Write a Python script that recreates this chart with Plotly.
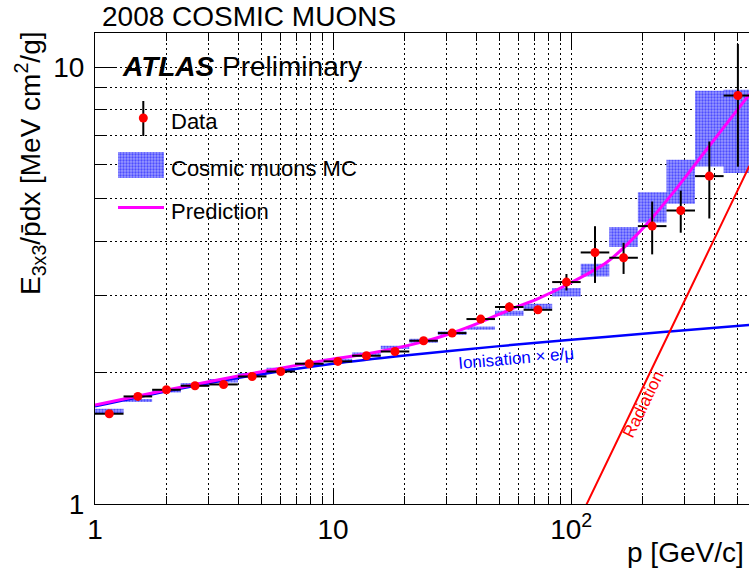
import numpy as np
import plotly.graph_objects as go

# ---------------------------------------------------------------------------
# Values
# ---------------------------------------------------------------------------
# Momentum bin edges [GeV/c] (equal width in log10 p)
bin_edges = [1.000, 1.318, 1.738, 2.291, 3.020, 3.981, 5.248, 6.918, 9.120,
             12.02, 15.85, 20.89, 27.54, 36.31, 47.86, 63.10, 83.18, 109.6,
             144.5, 190.5, 251.2, 331.1, 436.5, 575.4]

# Measured E_3x3 / (rho dx) per bin [MeV cm^2/g]
data_val = [1.610, 1.764, 1.827, 1.866, 1.879, 1.960, 2.012, 2.096, 2.122,
            2.186, 2.236, 2.366, 2.464, 2.653, 2.827, 2.786, 3.225, 3.770,
            3.666, 4.332, 4.704, 5.640, 8.627]
data_err = [0.020, 0.015, 0.015, 0.015, 0.015, 0.015, 0.015, 0.020, 0.020,
            0.020, 0.020, 0.030, 0.030, 0.050, 0.070, 0.050, 0.140, 0.560,
            0.300, 0.600, 0.520, 1.130, 2.700]

# Cosmic muon MC band (lower / upper edge per bin)
mc_low = [1.616, 1.712, 1.801, 1.859, 1.899, 1.967, 2.020, 2.074, 2.118,
          2.186, 2.265, 2.341, 2.442, 2.507, 2.699, 2.796, 2.988, 3.321,
          3.879, 4.416, 4.873, 5.933, 5.731]
mc_high = [1.653, 1.740, 1.827, 1.893, 1.933, 1.995, 2.052, 2.107, 2.151,
           2.225, 2.305, 2.391, 2.485, 2.551, 2.771, 2.875, 3.124, 3.551,
           4.310, 5.183, 6.146, 8.843, 8.890]

# Ionisation x e/mu curve
ion_p = [1, 2, 3, 5, 10, 20, 50, 100, 200, 300, 560]
ion_val = [1.674, 1.813, 1.891, 1.983, 2.095, 2.188, 2.300, 2.378, 2.455,
           2.500, 2.572]

# Radiation curve
rad_p = [110, 200, 300, 400, 560]
rad_val = [0.94, 1.86, 2.93, 4.06, 5.95]

# Total prediction
pred_p = [1, 2, 3, 5, 10, 14, 24, 32, 42, 55, 73, 96, 141, 195, 268, 371,
          512, 560]
pred_val = [1.685, 1.825, 1.905, 2.01, 2.15, 2.21, 2.355, 2.472, 2.615,
            2.785, 2.96, 3.18, 3.58, 4.22, 5.17, 6.5, 8.15, 8.68]

x_tick_vals = [1, 10, 100]
x_tick_text = ["1", "10", "10<sup>2</sup>"]
x_minor_vals = [2, 3, 4, 5, 6, 7, 8, 9, 20, 30, 40, 50, 60, 70, 80, 90,
                200, 300, 400, 500]
y_tick_vals = [1, 10]
y_tick_text = ["1", "10"]
y_minor_vals = [2, 3, 4, 5, 6, 7, 8, 9]

# ---------------------------------------------------------------------------
# Geometry helpers
# ---------------------------------------------------------------------------
W, H = 749, 572
ML, MR, MT, MB = 95, 0, 33, 68
FONT = "Liberation Sans, Arial, Helvetica, sans-serif"


def fx(px):
    return (px - ML) / (W - ML - MR)


def fy(py):
    return (H - MB - py) / (H - MT - MB)


edges = np.array(bin_edges)
lo = edges[:-1]
hi = edges[1:]
centers = np.sqrt(lo * hi)

PATTERN = dict(shape=".", fgcolor="#0000ff", bgcolor="#9a9aff", size=3,
               solidity=0.45)

fig = go.Figure()

# MC band: one closed rectangle per bin
bx, by = [], []
for l, h, a, b in zip(lo, hi, mc_low, mc_high):
    bx += [l, h, h, l, l, None]
    by += [a, a, b, b, a, None]
fig.add_trace(go.Scatter(x=bx, y=by, mode="none", fill="toself",
                         fillcolor="#8080ff", fillpattern=PATTERN,
                         hoverinfo="skip", showlegend=False))

fig.add_trace(go.Scatter(x=ion_p, y=ion_val, mode="lines",
                         line=dict(color="#0000ff", width=2.5, shape="spline",
                                   smoothing=0.8),
                         showlegend=False))
fig.add_trace(go.Scatter(x=rad_p, y=rad_val, mode="lines",
                         line=dict(color="#ff0000", width=2),
                         showlegend=False))
fig.add_trace(go.Scatter(x=pred_p, y=pred_val, mode="lines",
                         line=dict(color="#ff00ff", width=3, shape="spline",
                                   smoothing=0.8),
                         showlegend=False))

fig.add_trace(go.Scatter(
    x=centers, y=data_val, mode="markers",
    marker=dict(color="#ff0000", size=9, line=dict(width=0)),
    error_y=dict(type="data", array=data_err, color="black", thickness=2,
                 width=0),
    error_x=dict(type="data", array=hi - centers, arrayminus=centers - lo,
                 color="black", thickness=2, width=0),
    showlegend=False))

# Legend glyphs drawn on an overlay in plot-fraction coordinates
fig.add_trace(go.Scatter(
    x=[fx(143.3)], y=[fy(118)], mode="markers", xaxis="x2", yaxis="y2",
    marker=dict(color="#ff0000", size=9),
    error_y=dict(type="data", array=[fy(101) - fy(118)],
                 arrayminus=[fy(118) - fy(136)], color="black", thickness=2,
                 width=0),
    showlegend=False, hoverinfo="skip"))
fig.add_trace(go.Scatter(
    x=[fx(118), fx(164), fx(164), fx(118), fx(118)],
    y=[fy(178), fy(178), fy(152), fy(152), fy(178)],
    mode="none", fill="toself", fillcolor="#8080ff",
    fillpattern=PATTERN, xaxis="x2", yaxis="y2",
    showlegend=False, hoverinfo="skip"))
fig.add_trace(go.Scatter(
    x=[fx(118), fx(164)], y=[fy(207.5), fy(207.5)], mode="lines",
    line=dict(color="#ff00ff", width=3), xaxis="x2", yaxis="y2",
    showlegend=False, hoverinfo="skip"))

grid = dict(showgrid=True, gridcolor="black", gridwidth=1, griddash="2px,3px")

fig.update_layout(
    width=W, height=H,
    margin=dict(l=ML, r=MR, t=MT, b=MB, pad=0),
    paper_bgcolor="white", plot_bgcolor="white",
    font=dict(family=FONT, color="black"),
    xaxis=dict(type="log", range=[0, np.log10(558)],
               tickmode="array", tickvals=x_tick_vals, ticktext=x_tick_text,
               ticks="inside", ticklen=16, tickwidth=1, tickcolor="black",
               showline=True, linecolor="black", linewidth=1, mirror="ticks",
               zeroline=False, tickfont=dict(size=28, family=FONT),
               ticklabelstandoff=0,
               minor=dict(tickmode="array", tickvals=x_minor_vals,
                          ticks="inside", ticklen=8, tickwidth=1,
                          tickcolor="black", **grid),
               **grid),
    yaxis=dict(type="log", range=[0, np.log10(12)],
               tickmode="array", tickvals=y_tick_vals, ticktext=y_tick_text,
               ticks="inside", ticklen=20, tickwidth=1, tickcolor="black",
               showline=True, linecolor="black", linewidth=1, mirror=False,
               zeroline=False, tickfont=dict(size=28, family=FONT),
               ticklabelstandoff=4,
               minor=dict(tickmode="array", tickvals=y_minor_vals,
                          ticks="inside", ticklen=10, tickwidth=1,
                          tickcolor="black", **grid),
               **grid),
    xaxis2=dict(overlaying="x", range=[0, 1], visible=False,
                fixedrange=True),
    yaxis2=dict(overlaying="y", range=[0, 1], visible=False,
                fixedrange=True),
)


def note(text, px, py, size, xanchor="left", color="black", angle=0):
    fig.add_annotation(text=text, x=fx(px), y=fy(py), xref="paper",
                       yref="paper", xanchor=xanchor, yanchor="middle",
                       showarrow=False, textangle=angle,
                       font=dict(size=size, color=color, family=FONT))


note("2008 COSMIC MUONS", 100, 16, 28)
note("<b><i>ATLAS</i></b> Preliminary", 120, 66, 28)
note("Data", 169, 122, 22)
note("Cosmic muons MC", 169, 168, 22)
note("Prediction", 169, 211, 22)
note("Ionisation \u00d7 e/\u03bc", 516, 358, 17, xanchor="center",
     color="#0000ff", angle=-5)
note("Radiation", 643, 404, 17, xanchor="center", color="#ff0000", angle=-64)
note("p [GeV/c]", 746, 552, 28, xanchor="right")
note("E<sub>3x3</sub>/p\u0304dx [MeV cm<sup>2</sup>/g]", 30, 163, 28,
     xanchor="center", angle=-90)

fig.write_html("out.html")
